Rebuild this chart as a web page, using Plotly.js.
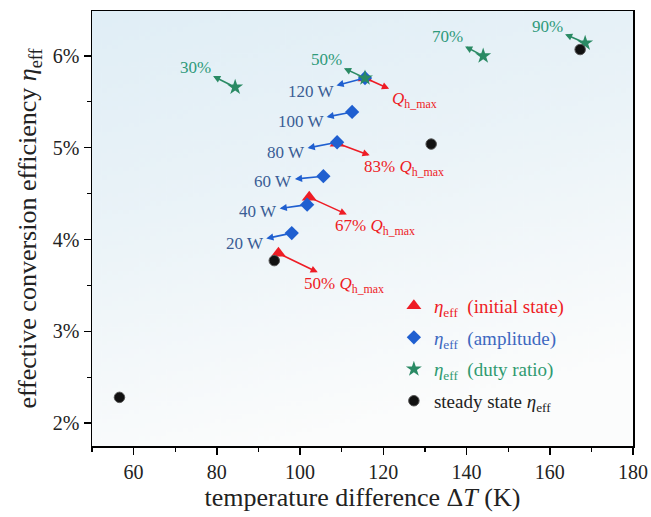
<!DOCTYPE html>
<html>
<head>
<meta charset="utf-8">
<script src="https://cdn.plot.ly/plotly-3.0.1.min.js"></script>
<style>html,body{margin:0;padding:0;background:#fff;}#chart{width:651px;height:517px;}</style>
</head>
<body>
<div id="chart"></div>
<script>
// ---- data (ΔT in K, efficiency in %) ----
const steadyX = [56.6, 93.8, 131.5, 167.3];
const steadyY = [2.28, 3.77, 5.04, 6.07];

const initX = [94.8, 102.2, 108.9, 115.6];
const initY = [3.85, 4.46, 5.05, 5.76];
const initLabels = ["50% <i>Q</i><sub>h_max</sub>", "67% <i>Q</i><sub>h_max</sub>", "83% <i>Q</i><sub>h_max</sub>", "<i>Q</i><sub>h_max</sub>"];

const ampX = [98.0, 101.7, 105.6, 108.9, 112.5, 115.6];
const ampY = [4.07, 4.38, 4.69, 5.06, 5.39, 5.76];
const ampLabels = ["20 W", "40 W", "60 W", "80 W", "100 W", "120 W"];

const dutyX = [84.4, 115.6, 144.0, 168.5];
const dutyY = [5.66, 5.76, 6.00, 6.14];
const dutyLabels = ["30%", "50%", "70%", "90%"];

const xTickVals = [60, 80, 100, 120, 140, 160, 180];
const yTickVals = [2, 3, 4, 5, 6];
const yTickText = ["2%", "3%", "4%", "5%", "6%"];

// ---- label placement (pixel offsets of label from its point) ----
const initOff = [[66, 32], [66, 30], [67, 25], [49, 22]];
const ampOff = [[-47, 10], [-49, 7], [-50, 5], [-51, 10], [-51, 10], [-54, 14]];
const dutyOff = [[-40, -20], [-39, -18], [-36, -19], [-38, -17]];

const RED = '#ee1c25', BLUE = '#1f5fd0', GREEN = '#2a8a64', BLACK = '#111111';
const FONT = 'Liberation Serif, Times New Roman, serif';

const eta = '<i>η</i><sub>eff</sub>';

const traces = [
  {x: initX, y: initY, type: 'scatter', mode: 'markers', legendgroup: 'a',
   name: '<span style="color:' + RED + '">' + eta + '  (initial state)</span>',
   marker: {symbol: 'triangle-up', size: 13, color: RED}},
  {x: ampX, y: ampY, type: 'scatter', mode: 'markers', legendgroup: 'b',
   name: '<span style="color:#3d68c0">' + eta + '  (amplitude)</span>',
   marker: {symbol: 'diamond', size: 11, color: BLUE}},
  {x: dutyX, y: dutyY, type: 'scatter', mode: 'markers', legendgroup: 'c',
   name: '<span style="color:#2f9a70">' + eta + '  (duty ratio)</span>',
   marker: {symbol: 'star', size: 12, color: GREEN}},
  {x: steadyX, y: steadyY, type: 'scatter', mode: 'markers', legendgroup: 'd',
   name: 'steady state ' + eta,
   marker: {symbol: 'circle', size: 10.5, color: BLACK, line: {color: '#555', width: 1}}}
];

const annotations = [];
function addLabels(xs, ys, labels, offs, color, textColor) {
  for (let i = 0; i < xs.length; i++) {
    annotations.push({
      x: xs[i], y: ys[i], xref: 'x', yref: 'y', text: labels[i],
      ax: offs[i][0], ay: offs[i][1], showarrow: true, arrowside: 'start',
      arrowhead: 2, startarrowhead: 2, arrowsize: 1, startarrowsize: 0.9, arrowwidth: 1.6,
      arrowcolor: color, standoff: 5, startstandoff: 1,
      font: {family: FONT, size: 17, color: textColor}
    });
  }
}
addLabels(initX, initY, initLabels, initOff, RED, RED);
addLabels(ampX, ampY, ampLabels, ampOff, BLUE, '#3a5d95');
addLabels(dutyX, dutyY, dutyLabels, dutyOff, GREEN, '#2f9a7a');

// gradient background image
const cv = document.createElement('canvas');
cv.width = 200; cv.height = 200;
const ctx = cv.getContext('2d');
const g = ctx.createLinearGradient(0, 0, 60, 200);
g.addColorStop(0, '#e0eef6');
g.addColorStop(0.45, '#eaf3f8');
g.addColorStop(1, '#fbfcfc');
ctx.fillStyle = g;
ctx.fillRect(0, 0, 200, 200);

const axisCommon = {
  showline: true, linecolor: '#000', linewidth: 1.5, mirror: true,
  ticks: 'outside', ticklen: 7, tickwidth: 1.5, tickcolor: '#000',
  showgrid: false, zeroline: false,
  tickfont: {family: FONT, size: 20, color: '#222'}
};

const layout = {
  width: 651, height: 517,
  margin: {l: 92, r: 18, t: 11, b: 71},
  paper_bgcolor: '#ffffff', plot_bgcolor: 'rgba(0,0,0,0)',
  font: {family: FONT, color: '#222'},
  xaxis: Object.assign({}, axisCommon, {
    range: [50, 180], tickmode: 'array', tickvals: xTickVals,
    minor: {dtick: 10, ticks: 'outside', ticklen: 4, tickwidth: 1.2, tickcolor: '#000'},
    title: {text: 'temperature difference Δ<i>T</i> (K)', font: {family: FONT, size: 26, color: '#222'}, standoff: 6}
  }),
  yaxis: Object.assign({}, axisCommon, {
    range: [1.75, 6.49], tickmode: 'array', tickvals: yTickVals, ticktext: yTickText,
    minor: {dtick: 0.5, ticks: 'outside', ticklen: 4, tickwidth: 1.2, tickcolor: '#000'},
    title: {text: 'effective conversion efficiency ' + eta, font: {family: FONT, size: 26, color: '#222'}, standoff: 8}
  }),
  showlegend: true,
  legend: {x: 0.558, y: 0.366, xanchor: 'left', yanchor: 'top', bgcolor: 'rgba(0,0,0,0)',
           font: {family: FONT, size: 19, color: '#222'}, traceorder: 'grouped', tracegroupgap: 4},
  annotations: annotations,
  images: [{source: cv.toDataURL(), xref: 'paper', yref: 'paper', x: 0, y: 1, sizex: 1, sizey: 1,
            sizing: 'stretch', layer: 'below', xanchor: 'left', yanchor: 'top'}]
};

Plotly.newPlot('chart', traces, layout, {displayModeBar: false, staticPlot: true});
</script>
</body>
</html>
